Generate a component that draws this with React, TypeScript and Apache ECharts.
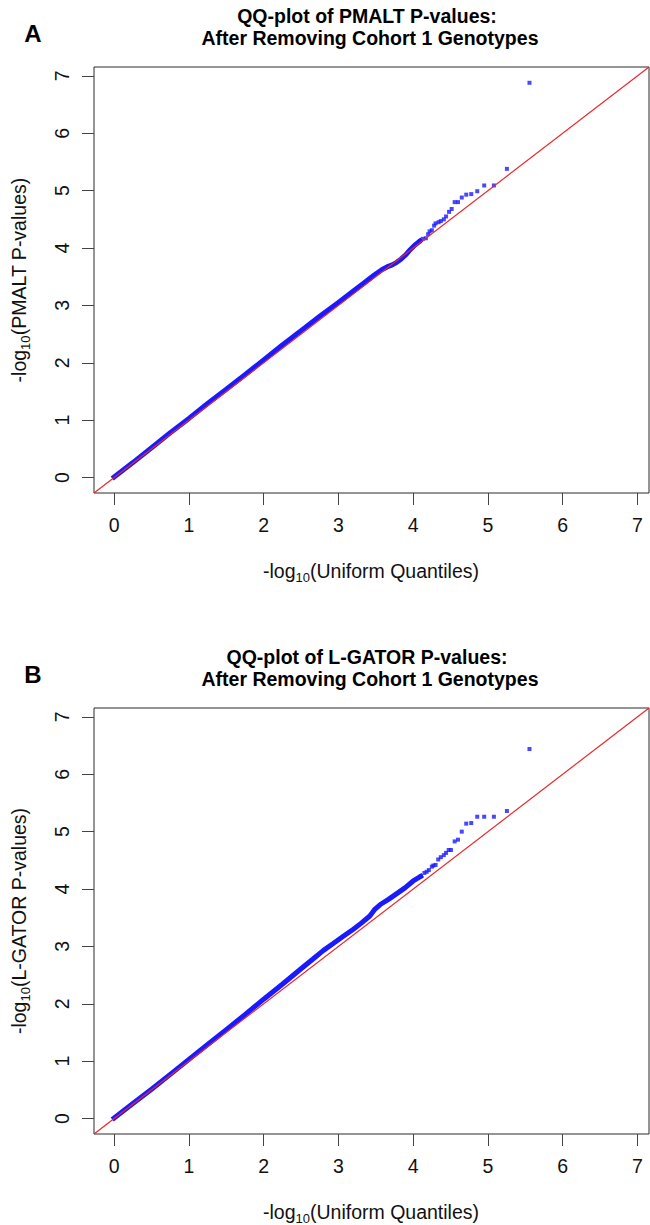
import React, { useEffect, useRef } from "react";
import * as echarts from "echarts";

// ---- data ----
const tickValues = [0, 1, 2, 3, 4, 5, 6, 7];

const panelLabels = ["A", "B"];
const titleLine1 = ["QQ-plot of PMALT P-values:", "QQ-plot of L-GATOR P-values:"];
const titleLine2 = ["After Removing Cohort 1 Genotypes", "After Removing Cohort 1 Genotypes"];
const yNames = ["PMALT P-values", "L-GATOR P-values"];

// Panel A: dense bulk of points (expected, observed)
const bulkExpA = [0, 0.25, 0.5, 0.75, 1.0, 1.25, 1.5, 1.75, 2.0, 2.25, 2.5, 2.75, 3.0, 3.2, 3.35, 3.47, 3.58, 3.65, 3.72, 3.78, 3.84, 3.9, 3.96, 4.02, 4.09];
const bulkObsA = [0.01, 0.26, 0.52, 0.78, 1.03, 1.29, 1.54, 1.79, 2.05, 2.31, 2.56, 2.81, 3.05, 3.25, 3.40, 3.52, 3.62, 3.67, 3.705, 3.75, 3.81, 3.88, 3.97, 4.05, 4.12];
// Panel A: upper tail points
const tailExpA = [5.556, 5.254, 5.08, 4.95, 4.857, 4.777, 4.71, 4.65, 4.60, 4.555, 4.515, 4.48, 4.44, 4.41, 4.37, 4.34, 4.30, 4.28, 4.25, 4.22, 4.20, 4.17, 4.13, 4.09];
const tailObsA = [6.88, 5.38, 5.09, 5.09, 4.99, 4.94, 4.93, 4.88, 4.80, 4.80, 4.68, 4.63, 4.55, 4.50, 4.47, 4.45, 4.43, 4.39, 4.31, 4.29, 4.24, 4.17, 4.16, 4.12];

// Panel B: dense bulk of points
const bulkExpB = [0, 0.25, 0.5, 0.75, 1.0, 1.25, 1.5, 1.75, 2.0, 2.25, 2.5, 2.66, 2.8, 2.93, 3.07, 3.2, 3.31, 3.42, 3.49, 3.56, 3.67, 3.78, 3.89, 4.0, 4.1];
const bulkObsB = [0.01, 0.26, 0.51, 0.77, 1.03, 1.29, 1.55, 1.81, 2.08, 2.34, 2.61, 2.78, 2.93, 3.05, 3.18, 3.30, 3.41, 3.53, 3.65, 3.73, 3.82, 3.92, 4.02, 4.14, 4.22];
// Panel B: upper tail points
const tailExpB = [5.556, 5.254, 5.08, 4.95, 4.857, 4.777, 4.71, 4.65, 4.60, 4.555, 4.505, 4.475, 4.44, 4.41, 4.37, 4.335, 4.30, 4.27, 4.25, 4.21, 4.18, 4.15, 4.10];
const tailObsB = [6.44, 5.36, 5.26, 5.26, 5.26, 5.15, 5.14, 5.00, 4.86, 4.83, 4.68, 4.68, 4.63, 4.59, 4.555, 4.515, 4.42, 4.41, 4.39, 4.33, 4.30, 4.28, 4.22];

const bulkExp = [bulkExpA, bulkExpB];
const bulkObs = [bulkObsA, bulkObsB];
const tailExp = [tailExpA, tailExpB];
const tailObs = [tailObsA, tailObsB];

// axis range (R's 4% extension around the data range)
const AX_MIN = -0.27;
const AX_MAX = 7.155;

const FONT = "'Liberation Sans', Arial, Helvetica, sans-serif";
const BLUE = "#1a1aff";
const RED = "#e8272a";
const AXIS_GRAY = "#444444";

const GRID_LEFT = 94;
const GRID_W = 555;
const GRID_H = 426;
const GRID_TOPS = [67, 708];

function zip(xs: number[], ys: number[]) {
  return xs.map((x, i) => [x, ys[i]]);
}

export default function App() {
  const ref = useRef<HTMLDivElement>(null);
  useEffect(() => {
    if (!ref.current) return;
    const chart = echarts.init(ref.current, null, { renderer: "svg" });

    const grids: any[] = [];
    const xAxes: any[] = [];
    const yAxes: any[] = [];
    const series: any[] = [];
    const graphics: any[] = [];

    [0, 1].forEach((p) => {
      const top = GRID_TOPS[p];
      grids.push({
        left: GRID_LEFT,
        top,
        width: GRID_W,
        height: GRID_H,
        show: true,
        borderColor: "#2a2a2a",
        borderWidth: 1,
        backgroundColor: "transparent",
      });
      const axisCommon = {
        type: "value",
        min: AX_MIN,
        max: AX_MAX,
        gridIndex: p,
        axisLine: { show: false, onZero: false },
        splitLine: { show: false },
        axisTick: {
          show: true,
          inside: false,
          length: 12,
          customValues: tickValues,
          lineStyle: { color: AXIS_GRAY, width: 1 },
        },
      };
      xAxes.push({
        ...axisCommon,
        position: "bottom",
        axisLabel: {
          customValues: tickValues,
          fontSize: 19.5,
          fontFamily: FONT,
          color: "#111",
          margin: 22,
        },
      });
      yAxes.push({
        ...axisCommon,
        position: "left",
        axisLabel: {
          customValues: tickValues,
          fontSize: 19.5,
          fontFamily: FONT,
          color: "#111",
          margin: 22,
          rotate: 90,
        },
      });

      series.push({
        type: "line",
        xAxisIndex: p,
        yAxisIndex: p,
        data: zip(bulkExp[p], bulkObs[p]),
        symbol: "none",
        lineStyle: { color: BLUE, width: 5, cap: "square" },
        z: 2,
        silent: true,
      });
      series.push({
        type: "scatter",
        xAxisIndex: p,
        yAxisIndex: p,
        data: zip(tailExp[p], tailObs[p]),
        symbol: "rect",
        symbolSize: 4,
        itemStyle: { color: BLUE },
        z: 3,
        silent: true,
      });
      series.push({
        type: "line",
        xAxisIndex: p,
        yAxisIndex: p,
        data: [
          [AX_MIN, AX_MIN],
          [AX_MAX, AX_MAX],
        ],
        symbol: "none",
        lineStyle: { color: RED, width: 1.2 },
        z: 5,
        silent: true,
      });

      const dy = top - GRID_TOPS[0];
      graphics.push({
        type: "text",
        x: 33,
        y: 33 + dy,
        style: {
          text: panelLabels[p],
          font: `bold 24px ${FONT}`,
          fill: "#000",
          align: "center",
          verticalAlign: "middle",
          textAlign: "center",
          textVerticalAlign: "middle",
        },
      });
      graphics.push({
        type: "text",
        x: 367,
        y: 16 + dy,
        style: {
          text: titleLine1[p],
          font: `bold 19.5px ${FONT}`,
          fill: "#000",
          align: "center",
          verticalAlign: "middle",
          textAlign: "center",
          textVerticalAlign: "middle",
        },
      });
      graphics.push({
        type: "text",
        x: 370,
        y: 38 + dy,
        style: {
          text: titleLine2[p],
          font: `bold 19.5px ${FONT}`,
          fill: "#000",
          align: "center",
          verticalAlign: "middle",
          textAlign: "center",
          textVerticalAlign: "middle",
        },
      });
      const rich = {
        m: { fontSize: 19.5, fontFamily: FONT, fill: "#111", color: "#111" },
        s: { fontSize: 13, fontFamily: FONT, fill: "#111", color: "#111", padding: [12, 0, 0, 0] },
      };
      graphics.push({
        type: "text",
        x: 371,
        y: 571 + dy,
        style: {
          text: "{m|-log}{s|10}{m|(Uniform Quantiles)}",
          rich,
          fill: "#111",
          align: "center",
          verticalAlign: "middle",
          textAlign: "center",
          textVerticalAlign: "middle",
        },
      });
      graphics.push({
        type: "text",
        x: 19,
        y: top + GRID_H / 2,
        rotation: Math.PI / 2,
        style: {
          text: `{m|-log}{s|10}{m|(${yNames[p]})}`,
          rich,
          fill: "#111",
          align: "center",
          verticalAlign: "middle",
          textAlign: "center",
          textVerticalAlign: "middle",
        },
      });
    });

    chart.setOption({
      animation: false,
      backgroundColor: "#ffffff",
      grid: grids,
      xAxis: xAxes,
      yAxis: yAxes,
      series,
      graphic: { elements: graphics },
    });
    return () => chart.dispose();
  }, []);

  return (
    <div
      ref={ref}
      style={{ position: "absolute", left: 0, top: 0, width: 650, height: 1225 }}
    />
  );
}
